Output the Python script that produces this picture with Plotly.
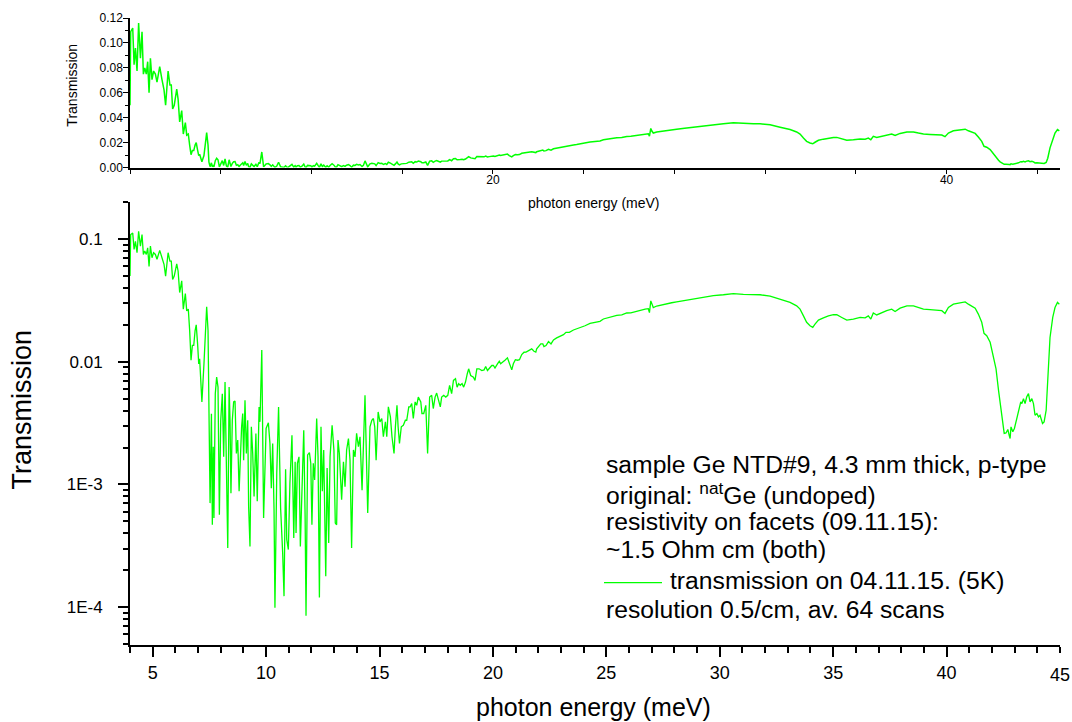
import plotly.graph_objects as go

# ---------------- data ----------------
energy_meV = [
    4.00, 4.03, 4.12, 4.18, 4.24, 4.31, 4.38, 4.46, 4.53, 4.59, 4.65, 4.72, 4.78, 4.84, 4.90, 4.97,
    5.04, 5.12, 5.19, 5.31, 5.41, 5.50, 5.57, 5.68, 5.76, 5.82, 5.88, 5.95, 6.06, 6.12, 6.19, 6.28,
    6.35, 6.44, 6.50, 6.57, 6.63, 6.69, 6.75, 6.81, 6.87, 6.92, 6.98, 7.03, 7.07, 7.13, 7.17, 7.26,
    7.38, 7.44, 7.48, 7.53, 7.59, 7.63, 7.67, 7.70, 7.76, 7.82, 7.88, 7.94, 8.00, 8.07, 8.13, 8.19,
    8.25, 8.31, 8.37, 8.41, 8.45, 8.51, 8.57, 8.63, 8.69, 8.75, 8.81, 8.86, 8.92, 8.97, 9.01, 9.07,
    9.13, 9.19, 9.23, 9.29, 9.35, 9.41, 9.47, 9.55, 9.61, 9.69, 9.73, 9.81, 9.89, 10.00, 10.10, 10.17,
    10.23, 10.29, 10.35, 10.39, 10.47, 10.55, 10.64, 10.73, 10.79, 10.86, 10.91, 10.98, 11.05, 11.14,
    11.22, 11.28, 11.32, 11.38, 11.45, 11.51, 11.58, 11.66, 11.72, 11.76, 11.83, 11.91, 11.97, 12.02,
    12.08, 12.14, 12.23, 12.29, 12.35, 12.42, 12.48, 12.54, 12.63, 12.69, 12.76, 12.82, 12.91, 12.99,
    13.05, 13.11, 13.17, 13.23, 13.33, 13.41, 13.48, 13.55, 13.63, 13.70, 13.77, 13.85, 13.92, 13.99,
    14.07, 14.14, 14.23, 14.29, 14.36, 14.48, 14.58, 14.66, 14.73, 14.79, 14.85, 14.94, 15.02, 15.10,
    15.17, 15.26, 15.32, 15.39, 15.48, 15.55, 15.64, 15.70, 15.77, 15.82, 15.88, 15.96, 16.05, 16.14,
    16.20, 16.29, 16.35, 16.42, 16.49, 16.57, 16.64, 16.71, 16.82, 16.87, 16.95, 17.04, 17.12, 17.21,
    17.30, 17.37, 17.45, 17.52, 17.59, 17.68, 17.74, 17.83, 17.92, 18.01, 18.09, 18.18, 18.26, 18.35,
    18.42, 18.49, 18.56, 18.64, 18.71, 18.79, 18.87, 18.93, 19.02, 19.14, 19.21, 19.29, 19.39, 19.51,
    19.61, 19.68, 19.76, 19.84, 19.95, 20.02, 20.09, 20.20, 20.28, 20.34, 20.43, 20.53, 20.64, 20.72,
    20.83, 20.90, 20.99, 21.08, 21.17, 21.27, 21.37, 21.46, 21.56, 21.71, 21.81, 21.89, 21.93, 22.00,
    22.11, 22.20, 22.25, 22.34, 22.45, 22.56, 22.67, 22.81, 22.96, 23.11, 23.22, 23.37, 23.55, 23.69,
    23.84, 24.06, 24.28, 24.50, 24.72, 24.87, 25.02, 25.24, 25.46, 25.68, 25.90, 26.08, 26.27, 26.49,
    26.71, 26.85, 26.90, 26.96, 27.00, 27.07, 27.22, 27.44, 27.66, 27.88, 28.10, 28.45, 28.84, 29.28,
    29.72, 30.16, 30.60, 31.04, 31.48, 31.78, 32.22, 32.66, 33.10, 33.39, 33.54, 33.69, 33.83, 33.98,
    34.10, 34.20, 34.35, 34.57, 34.79, 35.01, 35.16, 35.38, 35.60, 35.89, 36.19, 36.41, 36.55, 36.66,
    36.77, 36.92, 37.14, 37.36, 37.58, 37.73, 37.95, 38.25, 38.54, 38.76, 38.98, 39.27, 39.57, 39.79,
    39.93, 40.08, 40.30, 40.52, 40.67, 40.82, 40.96, 41.11, 41.26, 41.40, 41.55, 41.65, 41.77, 41.92,
    42.07, 42.18, 42.29, 42.36, 42.43, 42.54, 42.62, 42.70, 42.76, 42.80, 42.84, 42.92, 42.99, 43.09,
    43.17, 43.27, 43.32, 43.39, 43.46, 43.53, 43.61, 43.68, 43.76, 43.83, 43.90, 43.98, 44.05, 44.12,
    44.23, 44.30, 44.39, 44.46, 44.56, 44.68, 44.78, 44.89, 44.97,
]

transmission = [
    0.050, 0.109, 0.112, 0.0825, 0.096, 0.0775, 0.116, 0.0877, 0.109, 0.075, 0.080, 0.075, 0.085, 0.060, 0.0877, 0.0706,
    0.0775, 0.075, 0.0685, 0.081, 0.0706, 0.0624, 0.050, 0.0775, 0.0663, 0.0663, 0.047, 0.050, 0.063, 0.055, 0.0367, 0.0457,
    0.0269, 0.036, 0.026, 0.0269, 0.018, 0.0103, 0.0136, 0.0136, 0.018, 0.020, 0.014, 0.0096, 0.0106, 0.00705, 0.0047, 0.0096,
    0.0281, 0.018, 0.00429, 0.000705, 0.00378, 0.00047, 0.00203, 0.000533, 0.0055, 0.0075, 0.00622, 0.000568, 0.00334, 0.0055, 0.00168, 0.00684,
    0.0014, 0.000304, 0.00622, 0.00334, 0.00085, 0.00334, 0.00471, 0.0048, 0.00179, 0.0023, 0.00088, 0.00191, 0.00295, 0.00379, 0.00158, 0.00485,
    0.00179, 0.00334, 0.000662, 0.000313, 0.00295, 0.00179, 0.000798, 0.0026, 0.00073, 0.00429, 0.00324, 0.0125, 0.000533, 0.00286, 0.00318, 0.00216,
    0.000933, 0.00216, 0.000622, 0.000099, 0.00124, 0.00429, 0.000643, 0.000277, 0.000123, 0.00133, 0.000356, 0.000295, 0.00102, 0.00252,
    0.000367, 0.00153, 0.000403, 0.00149, 0.00168, 0.000313, 0.00102, 0.00277, 0.00055, 0.000085, 0.00174, 0.00182, 0.00149, 0.00047,
    0.00149, 0.00109, 0.00345, 0.00168, 0.00012, 0.00295, 0.00088, 0.00191, 0.000179, 0.00136, 0.000334, 0.00168, 0.00304, 0.00191,
    0.000485, 0.00047, 0.0023, 0.00179, 0.00075, 0.00153, 0.00096, 0.00191, 0.00237, 0.00158, 0.000304, 0.00191, 0.00168, 0.00261,
    0.00203, 0.00245, 0.0009, 0.00174, 0.00533, 0.000585, 0.00295, 0.00334, 0.00345, 0.00295, 0.00158, 0.0039, 0.00324, 0.00345,
    0.00245, 0.00324, 0.00245, 0.00429, 0.00356, 0.00245, 0.00179, 0.00295, 0.00442, 0.00295, 0.00216, 0.00295, 0.00304, 0.00334,
    0.00334, 0.00429, 0.00429, 0.00456, 0.00345, 0.00471, 0.00442, 0.00516, 0.00471, 0.00379, 0.00379, 0.00442, 0.00179, 0.00516,
    0.00533, 0.00416, 0.00516, 0.00556, 0.00501, 0.00429, 0.00516, 0.00533, 0.00516, 0.00533, 0.00643, 0.0055, 0.00705, 0.00728,
    0.00622, 0.00664, 0.00643, 0.00664, 0.00622, 0.00684, 0.0080, 0.00877, 0.00774, 0.0075, 0.00705, 0.00877, 0.00877, 0.00849,
    0.0086, 0.00916, 0.00849, 0.00877, 0.00933, 0.00933, 0.0089, 0.00963, 0.0101, 0.00963, 0.0099, 0.0103, 0.01077, 0.00963,
    0.0086, 0.00963, 0.0104, 0.0103, 0.0104, 0.01146, 0.01197, 0.0120, 0.01236, 0.01274, 0.0122, 0.0120, 0.01274, 0.01313,
    0.0140, 0.0140, 0.0133, 0.01358, 0.01462, 0.0140, 0.01508, 0.01566, 0.01604, 0.01664, 0.01738, 0.0174, 0.01817, 0.0185,
    0.0191, 0.01968, 0.02056, 0.02095, 0.0214, 0.02234, 0.0228, 0.0233, 0.0239, 0.0241, 0.0250, 0.0251, 0.0257, 0.0264,
    0.0269, 0.0271, 0.0252, 0.0314, 0.0295, 0.0277, 0.0285, 0.0292, 0.0299, 0.0303, 0.0308, 0.0316, 0.0324, 0.0339,
    0.0347, 0.0352, 0.0360, 0.0354, 0.0352, 0.0352, 0.0343, 0.0324, 0.0305, 0.0286, 0.0269, 0.0237, 0.0210, 0.0197,
    0.0191, 0.0203, 0.0219, 0.0228, 0.0237, 0.0242, 0.0242, 0.0230, 0.0219, 0.0223, 0.0230, 0.0228, 0.0237, 0.0223,
    0.0250, 0.0241, 0.0252, 0.0261, 0.0269, 0.0257, 0.0274, 0.0286, 0.0286, 0.0277, 0.0269, 0.0266, 0.0264, 0.0261,
    0.0248, 0.0277, 0.0295, 0.0301, 0.0305, 0.0308, 0.0295, 0.0286, 0.0274, 0.0245, 0.0210, 0.01706, 0.01633, 0.01442,
    0.01057, 0.00877, 0.00585, 0.00456, 0.0039, 0.00261, 0.00263, 0.00281, 0.00252, 0.00237, 0.00295, 0.00269, 0.00286, 0.00345,
    0.00379, 0.00471, 0.00456, 0.00501, 0.00456, 0.00516, 0.0055, 0.00471, 0.00501, 0.00456, 0.00367, 0.00379, 0.00356, 0.00367,
    0.00314, 0.00324, 0.00403, 0.0075, 0.0158, 0.0230, 0.0277, 0.0305, 0.0295,
]

# tick labels
main_x_tickvals = [5, 10, 15, 20, 25, 30, 35, 40]
main_x_last_tick = 45
main_x_last_label = "45"
main_y_tickvals = [1e-4, 1e-3, 1e-2, 1e-1]
main_y_ticktext = ["1E-4", "1E-3", "0.01", "0.1"]
inset_x_tickvals = [20, 40]
inset_x_minor_tickvals = [4, 8, 12, 16, 24, 28, 32, 36, 44]
inset_y_tickvals = [0.0, 0.02, 0.04, 0.06, 0.08, 0.10, 0.12]
inset_y_ticktext = ["0.00", "0.02", "0.04", "0.06", "0.08", "0.10", "0.12"]

x_title = "photon energy (meV)"
y_title = "Transmission"
legend_lines = [
    "sample Ge NTD#9, 4.3 mm thick, p-type",
    "original: <sup>nat</sup>Ge (undoped)",
    "resistivity on facets (09.11.15):",
    "~1.5 Ohm cm (both)",
    None,
    "resolution 0.5/cm, av. 64 scans",
]
series_name = "transmission on 04.11.15. (5K)"

# ---------------- layout helpers ----------------
# target pixel positions are measured on the reference; the captured picture comes out
# slightly compressed/shifted vertically, so vertical positions are mapped through that correction.
W, H = 1072, 722
SY, OY = 0.984, 5.6
def fx(x_ref):
    return x_ref / W
def fy(y_ref):
    return 1 - ((y_ref - OY) / SY) / H

GREEN = "#00FF00"
FONT = "Liberation Sans, Arial, sans-serif"
minor_log_vals = [m * 10 ** e for e in range(-5, 0) for m in range(2, 10) if 4.9e-5 <= m * 10 ** e <= 0.2]

fig = go.Figure()
fig.add_trace(go.Scatter(x=energy_meV, y=transmission, mode="lines", name=series_name,
                         line=dict(color=GREEN, width=1.3), xaxis="x", yaxis="y", showlegend=False))
fig.add_trace(go.Scatter(x=energy_meV, y=transmission, mode="lines", name=series_name,
                         line=dict(color=GREEN, width=1.5), xaxis="x2", yaxis="y2", showlegend=False))

fig.update_layout(
    width=W, height=H, margin=dict(l=0, r=0, t=0, b=0),
    paper_bgcolor="white", plot_bgcolor="white",
    font=dict(family=FONT, color="black"),
    showlegend=False,
    xaxis=dict(domain=[fx(130), fx(1060)], range=[4, 45], anchor="y",
               tickmode="array", tickvals=main_x_tickvals, ticks="outside", ticklen=10, tickwidth=1.5,
               tickcolor="black", showline=True, linecolor="black", linewidth=2, showgrid=False, zeroline=False,
               tickfont=dict(size=18), ticklabelstandoff=0,
               minor=dict(dtick=1, tick0=0, ticks="outside", ticklen=6, tickwidth=1.5, tickcolor="black", showgrid=False)),
    yaxis=dict(domain=[fy(646), fy(201)], type="log", range=[-4.31, -0.695], anchor="x",
               tickmode="array", tickvals=main_y_tickvals, ticktext=main_y_ticktext,
               ticks="outside", ticklen=10, tickwidth=1.5, tickcolor="black",
               showline=True, linecolor="black", linewidth=2, showgrid=False, zeroline=False,
               tickfont=dict(size=17), ticklabelstandoff=12,
               minor=dict(tickmode="array", tickvals=minor_log_vals, ticks="outside", ticklen=5,
                          tickwidth=1.5, tickcolor="black", showgrid=False)),
    xaxis2=dict(domain=[fx(130), fx(1060)], range=[4, 45], anchor="y2",
                tickmode="array", tickvals=inset_x_tickvals,
                ticks="outside", ticklen=5, tickwidth=1.2, tickcolor="black",
                showline=True, linecolor="black", linewidth=1.5, showgrid=False, zeroline=False,
                tickfont=dict(size=12), ticklabelstandoff=-5,
                minor=dict(tickmode="array", tickvals=inset_x_minor_tickvals, ticks="outside", ticklen=5,
                           tickwidth=1.2, tickcolor="black", showgrid=False)),
    yaxis2=dict(domain=[fy(166.7), fy(16.7)], range=[0, 0.12], anchor="x2",
                tickmode="array", tickvals=inset_y_tickvals, ticktext=inset_y_ticktext,
                ticks="outside", ticklen=5, tickwidth=1.2, tickcolor="black",
                showline=True, linecolor="black", linewidth=1.5, showgrid=False, zeroline=False,
                tickfont=dict(size=12), ticklabelstandoff=-2,
                minor=dict(dtick=0.01, tick0=0, ticks="outside", ticklen=3, tickwidth=1.2,
                           tickcolor="black", showgrid=False)),
)

ann = [
    dict(text=x_title, x=fx(593.5), y=fy(708), font=dict(size=25)),
    dict(text=y_title, x=fx(22.5), y=fy(410), textangle=-90, font=dict(size=27)),
    dict(text=x_title, x=fx(594), y=fy(202), font=dict(size=14)),
    dict(text=y_title, x=fx(72.5), y=fy(84), textangle=-90, font=dict(size=14)),
]
line_centers = [465, 494, 522, 550, 581, 610]
for txt, yc in zip(legend_lines, line_centers):
    if txt is None:
        continue
    ann.append(dict(text=txt, x=fx(604), y=fy(yc), xanchor="left", font=dict(size=24.7)))
ann.append(dict(text=series_name, x=fx(668), y=fy(line_centers[4]), xanchor="left", font=dict(size=24.7)))

for a in ann:
    a.setdefault("xanchor", "center")
    a.update(xref="paper", yref="paper", yanchor="middle", showarrow=False)
# last tick label of the main axis, placed at its data position (it sits at the window edge)
ann.append(dict(text=main_x_last_label, x=main_x_last_tick, xref="x", y=fy(676), yref="paper",
                xanchor="center", yanchor="middle", showarrow=False, font=dict(size=18)))
fig.update_layout(annotations=ann)

fig.add_shape(type="line", xref="paper", yref="paper", x0=fx(604), x1=fx(662),
              y0=fy(583.3), y1=fy(583.3), line=dict(color=GREEN, width=1.3))

# pin the figure to the top-left corner of the window
post = (
    "document.documentElement.style.margin='0';"
    "document.body.style.margin='0';document.body.style.overflow='hidden';"
)
fig.write_html("out.html", post_script=post, config={"displayModeBar": False})
